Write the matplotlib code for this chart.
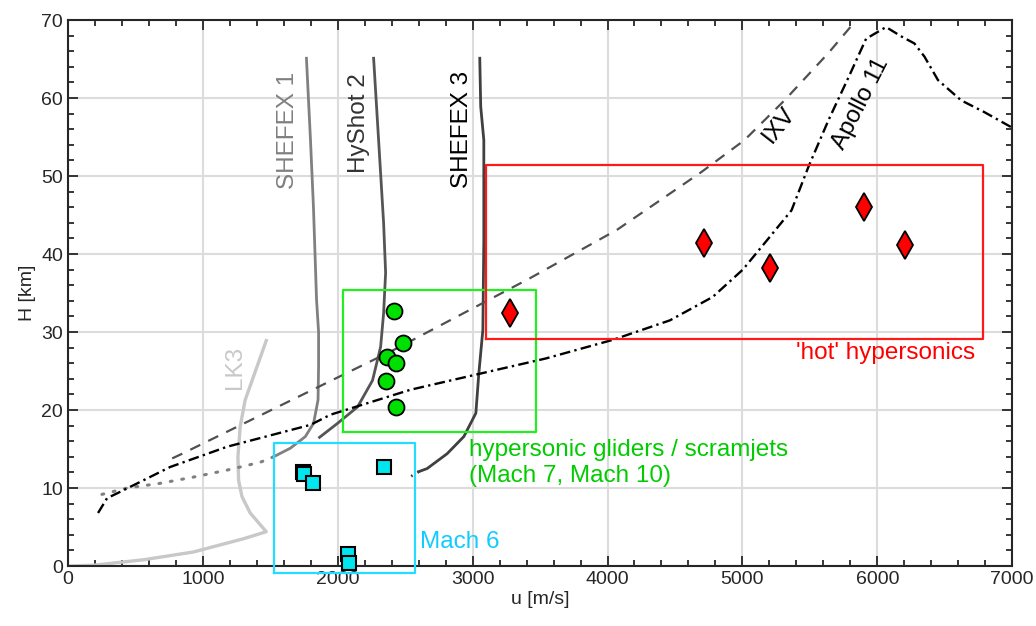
import numpy as np
import matplotlib.pyplot as plt
from matplotlib.ticker import MultipleLocator

plt.rcParams['font.family'] = ['Liberation Sans', 'DejaVu Sans']
plt.rcParams['lines.solid_joinstyle'] = 'round'
plt.rcParams['lines.dash_joinstyle'] = 'round'

# trajectories (u [m/s], H [km])
lk3_u = [0, 188, 559, 930, 1302, 1470, 1351, 1290, 1265, 1260, 1277, 1314, 1388, 1470]
lk3_h = [0.0, 0.1, 0.8, 1.8, 3.5, 4.4, 6.8, 8.9, 11.0, 14.0, 17.9, 21.3, 24.9, 28.9]

shefex1_u = [1768, 1798, 1820, 1843, 1858, 1858, 1854, 1821, 1760, 1648, 1524]
shefex1_h = [65.1, 54.6, 46.0, 34.1, 30.0, 25.6, 21.3, 18.3, 16.6, 15.1, 14.0]
shefex1_dot_u = [1524, 1425, 1180, 930, 683, 438, 186]
shefex1_dot_h = [14.0, 13.3, 12.3, 11.4, 10.6, 10.0, 8.9]

hyshot_u = [2266, 2303, 2340, 2355, 2340, 2318, 2258, 2147, 1999, 1865]
hyshot_h = [65.1, 54.6, 44.0, 37.6, 32.4, 28.1, 23.8, 20.4, 18.3, 16.5]

shefex3_u = [3053, 3060, 3083, 3083, 3076, 3046, 3024, 2935, 2811, 2663, 2601]
shefex3_h = [65.1, 58.9, 54.6, 41.8, 30.3, 24.7, 19.6, 16.6, 14.4, 12.5, 12.1]
shefex3_dot_u = [2601, 2514]
shefex3_dot_h = [12.1, 11.2]

ixv_u = [773, 847, 2415, 3425, 4070, 4695, 5015, 5312, 5639, 5825]
ixv_h = [13.8, 14.4, 27.7, 36.9, 43.1, 50.5, 54.6, 59.7, 65.8, 69.6]

apollo_u = [223, 290, 386, 758, 1181, 1798, 1946, 2539, 3540, 4040, 4463, 4780, 5003, 5203,
            5364, 5490, 5639, 5788, 5917, 6065, 6178, 6275, 6350, 6450, 6622, 6793, 7000]
apollo_h = [6.8, 8.7, 9.5, 12.7, 15.3, 18.1, 19.4, 22.6, 26.6, 29.0, 31.5, 34.5, 38.0, 42.2,
            45.6, 51.2, 57.2, 62.7, 67.6, 69.1, 67.9, 67.0, 65.3, 62.3, 59.7, 58.2, 56.2]

# vehicles
glider_u = [2415, 2481, 2363, 2429, 2355, 2429]
glider_h = [32.7, 28.6, 26.8, 26.0, 23.7, 20.4]
hot_u = [3276, 4718, 5201, 5899, 6203]
hot_h = [32.4, 41.4, 38.2, 46.0, 41.2]
mach6_u = [1746, 1753, 1813, 2340, 2073, 2080]
mach6_h = [12.1, 11.8, 10.6, 12.7, 1.5, 0.4]

# regions [u0, u1, h0, h1]
green_box = [2040, 3470, 17.2, 35.4]
red_box = [3098, 6783, 29.1, 51.4]
cyan_box = [1530, 2571, -0.9, 15.8]

fig, ax = plt.subplots(figsize=(10.36, 6.26), dpi=100)
fig.subplots_adjust(left=0.0656, right=0.977, bottom=0.0958, top=0.968)

def box(b, c):
    ax.plot([b[0], b[1], b[1], b[0], b[0]], [b[2], b[2], b[3], b[3], b[2]],
            color=c, lw=1.6, clip_on=False, zorder=3)

ax.plot(lk3_u, lk3_h, color='#c8c8c8', lw=2.4, zorder=2)
ax.plot(shefex1_u, shefex1_h, color='#808080', lw=2, zorder=2)
ax.plot(shefex1_dot_u, shefex1_dot_h, color='#808080', lw=2.2, ls=(0, (0.6, 3.2)),
        dash_capstyle='round', zorder=2)
ax.plot(hyshot_u, hyshot_h, color='#555555', lw=2, zorder=2)
ax.plot(shefex3_u, shefex3_h, color='#404040', lw=2, zorder=2)
ax.plot(shefex3_dot_u, shefex3_dot_h, color='#404040', lw=2, ls=(0, (0.6, 2)), zorder=2)
ax.plot(ixv_u, ixv_h, color='#505050', lw=1.6, ls=(0, (5, 4)), zorder=2)
ax.plot(apollo_u, apollo_h, color='black', lw=1.7, ls=(0, (4.5, 1.8, 1, 1.8)), zorder=2)

box(green_box, '#22ee22')
box(red_box, '#ff1a1a')
box(cyan_box, '#22ddff')

ax.plot(glider_u, glider_h, 'o', ms=11.5, mfc='#00e000', mec='black', mew=1.3, zorder=5)
ax.plot(hot_u, hot_h, 'd', ms=14, mfc='#ff0000', mec='black', mew=1.3, zorder=5)
ax.plot(mach6_u, mach6_h, 's', ms=10, mfc='#00e5ee', mec='black', mew=1.5, zorder=5,
        clip_on=False)

fs = 17.5
ax.text(1634, 55.9, 'SHEFEX 1', rotation=90, color='#808080', fontsize=fs, ha='center', va='center')
ax.text(2155, 56.8, 'HyShot 2', rotation=90, color='#333333', fontsize=fs, ha='center', va='center')
ax.text(2920, 56.0, 'SHEFEX 3', rotation=90, color='black', fontsize=fs, ha='center', va='center')
ax.text(1241, 25.5, 'LK3', rotation=90, color='#c8c8c8', fontsize=fs, ha='center', va='center')
ax.text(5275, 56.5, 'IXV', rotation=52, color='black', fontsize=fs, ha='center', va='center',
        rotation_mode='anchor')
ax.text(5880, 59.3, 'Apollo 11', rotation=63, color='black', fontsize=fs, ha='center', va='center',
        rotation_mode='anchor')
ax.text(5397, 27.3, "'hot' hypersonics", color='#ff0000', fontsize=fs, ha='left', va='center')
ax.text(2970, 13.2, 'hypersonic gliders / scramjets\n(Mach 7, Mach 10)', color='#00cc00',
        fontsize=fs, ha='left', va='center', linespacing=1.2)
ax.text(2613, 3.1, 'Mach 6', color='#11ccff', fontsize=fs, ha='left', va='center')

ax.set_xlim(0, 7000)
ax.set_ylim(0, 70)
ax.xaxis.set_major_locator(MultipleLocator(1000))
ax.xaxis.set_minor_locator(MultipleLocator(200))
ax.yaxis.set_major_locator(MultipleLocator(10))
ax.yaxis.set_minor_locator(MultipleLocator(2))
ax.tick_params(which='both', direction='in', top=True, right=True, color='#262626',
               labelsize=14, labelcolor='#262626', width=1.3)
ax.tick_params(which='major', length=7)
ax.tick_params(which='minor', length=4)
ax.grid(True, which='major', color='#dcdcdc', lw=1.5)
ax.set_axisbelow(True)
for s in ax.spines.values():
    s.set_color('#262626')
    s.set_linewidth(1.5)
ax.set_xlabel('u [m/s]', fontsize=14, color='#262626', labelpad=2)
ax.set_ylabel('H [km]', fontsize=14, color='#262626', labelpad=4)

fig.savefig('out.png', dpi=100)
